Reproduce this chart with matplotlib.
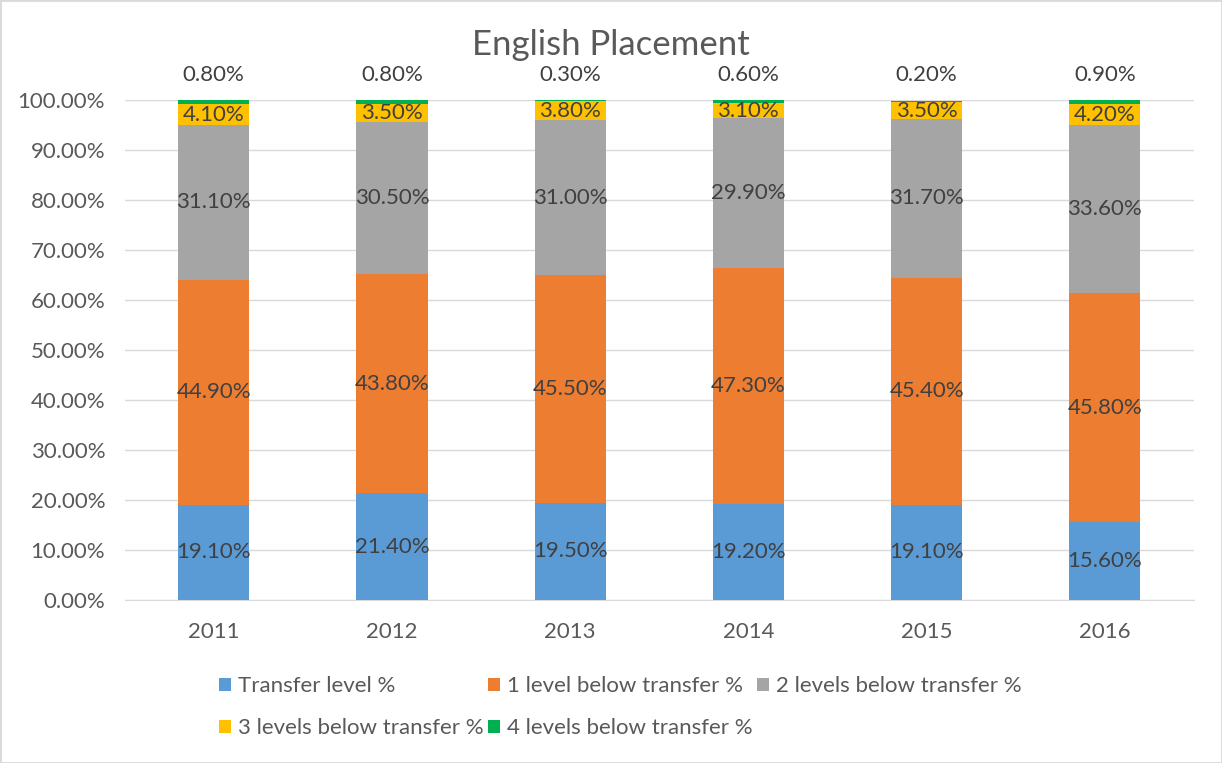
import matplotlib
matplotlib.use("Agg")
import matplotlib.pyplot as plt
import matplotlib.ticker as mticker
from matplotlib.patches import Rectangle
import numpy as np

plt.rcParams['font.family'] = ['Lato', 'DejaVu Sans']

years = ['2011', '2012', '2013', '2014', '2015', '2016']
transfer = [19.1, 21.4, 19.5, 19.2, 19.1, 15.6]
below1 = [44.9, 43.8, 45.5, 47.3, 45.4, 45.8]
below2 = [31.1, 30.5, 31.0, 29.9, 31.7, 33.6]
below3 = [4.1, 3.5, 3.8, 3.1, 3.5, 4.2]
below4 = [0.8, 0.8, 0.3, 0.6, 0.2, 0.9]

series = [transfer, below1, below2, below3, below4]
names = ['Transfer level %', '1 level below transfer %', '2 levels below transfer %',
         '3 levels below transfer %', '4 levels below transfer %']
colors = ['#5B9BD5', '#ED7D31', '#A5A5A5', '#FFC000', '#00B050']
label_color = '#404040'
tick_color = '#595959'

fig = plt.figure(figsize=(12.22, 7.63), dpi=100)
ax = fig.add_axes([0.102, 0.2136, 0.875, 0.655])

x = np.arange(len(years))
bottom = np.zeros(len(years))
bars = []
for i, (vals, name, col) in enumerate(zip(series, names, colors)):
    vals = np.array(vals)
    b = ax.bar(x, vals, 0.4, bottom=bottom, color=col, label=name, zorder=3)
    bars.append(b)
    for xi, v, bt in zip(x, vals, bottom):
        if i < 4:
            ax.text(xi, bt + v / 2, '{:.2f}%'.format(v), ha='center', va='center',
                    fontsize=16, color=label_color, zorder=4)
        else:
            # the small top segment gets its label above the bar
            ax.text(xi, 105, '{:.2f}%'.format(v), ha='center', va='center',
                    fontsize=16, color=label_color, zorder=4, clip_on=False)
    bottom = bottom + vals

ax.set_xlim(-0.5, len(years) - 0.5)
ax.set_ylim(0, 100)
ax.set_yticks(np.arange(0, 101, 10))
ax.yaxis.set_major_formatter(mticker.FuncFormatter(lambda v, p: '{:.2f}%'.format(v)))
ax.set_xticks(x)
ax.set_xticklabels(years)
ax.tick_params(axis='both', length=0, labelsize=16, labelcolor=tick_color)
ax.tick_params(axis='x', pad=16)
ax.tick_params(axis='y', pad=14)
ax.grid(axis='y', color='#D9D9D9', linewidth=1, zorder=0)
for s in ['top', 'right', 'left']:
    ax.spines[s].set_visible(False)
ax.spines['bottom'].set_color('#D9D9D9')

fig.text(0.5, 0.941, 'English Placement', fontsize=25, color=tick_color,
         ha='center', va='center')

# reorder so rows read T,1,2 / 3,4
order = [0, 3, 1, 4, 2]
handles = [bars[i] for i in order]
labels = [names[i] for i in order]
fig.legend(handles, labels, ncol=3, loc='upper left', bbox_to_anchor=(0.163, 0.14),
           frameon=False, fontsize=16, labelcolor=tick_color, handlelength=0.55,
           handleheight=0.55, handletextpad=0.3, columnspacing=0.2, labelspacing=1.0)

fig.patches.append(Rectangle((0, 0), 1, 1, transform=fig.transFigure, fill=False,
                             edgecolor='#D9D9D9', linewidth=2))

fig.savefig('out.png', dpi=100)
